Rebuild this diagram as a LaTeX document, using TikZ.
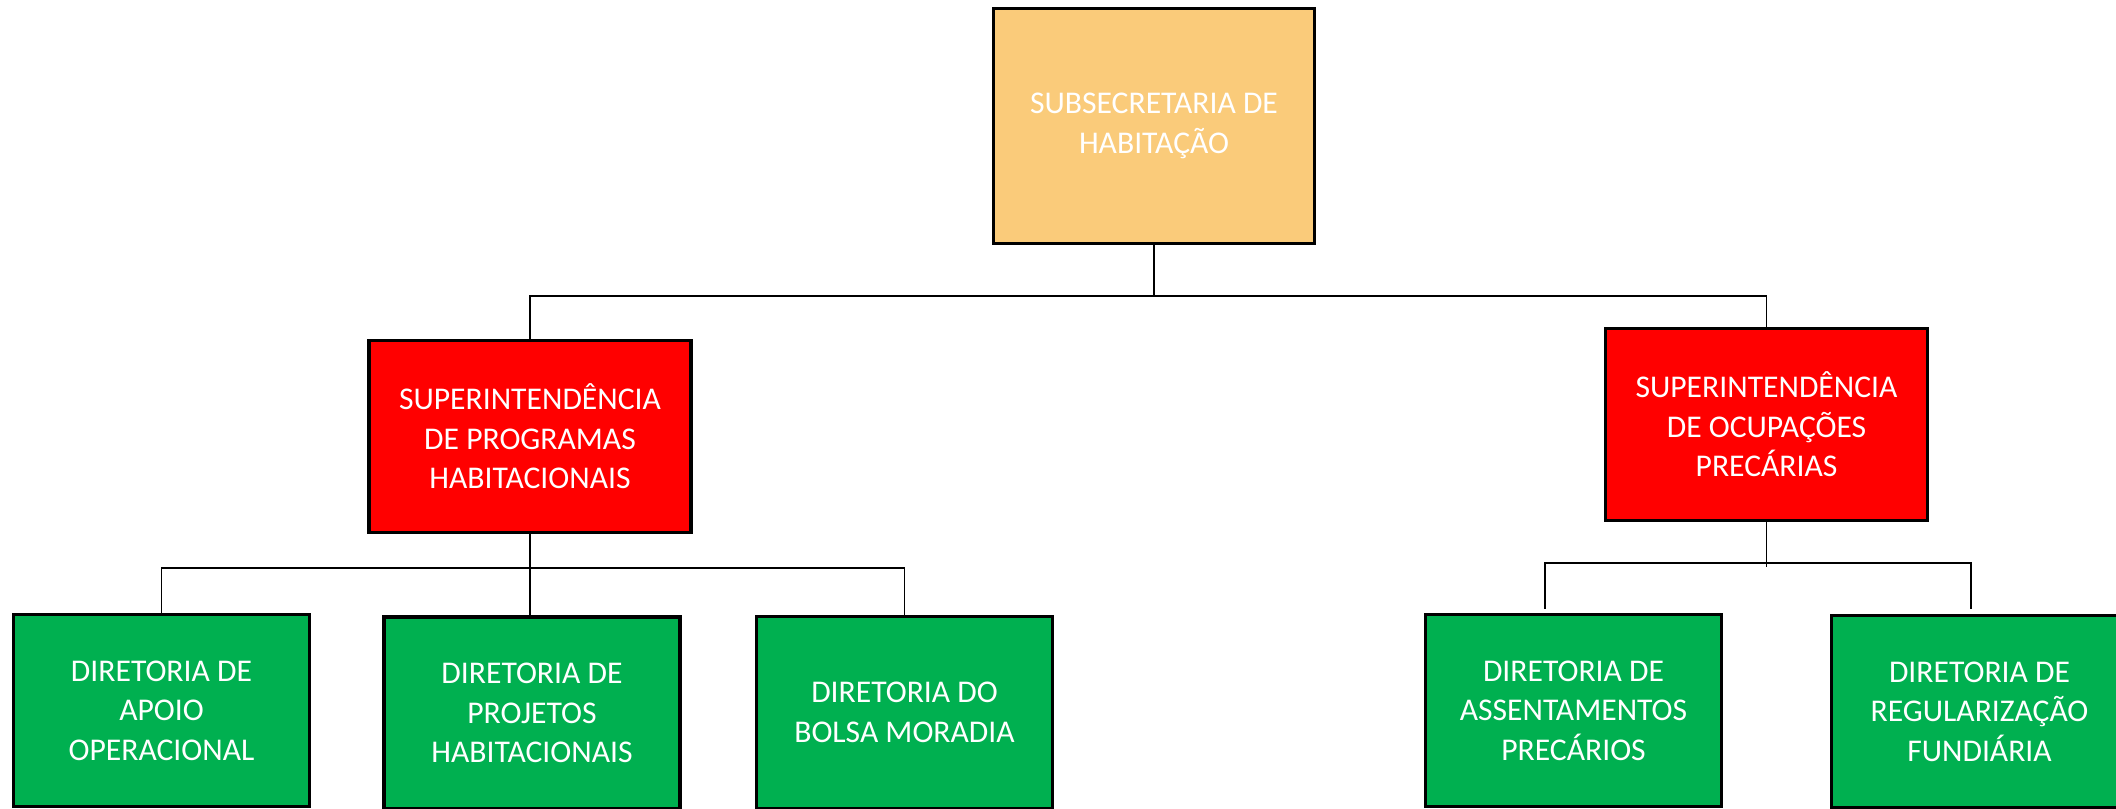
\documentclass[tikz,border=0pt]{standalone}
\usepackage{fontspec}
\setmainfont{Carlito}
\usetikzlibrary{positioning, calc}
\definecolor{subsec}{HTML}{FACB7A}
\definecolor{superint}{HTML}{FF0000}
\definecolor{diret}{HTML}{00B050}
\begin{document}
\begin{tikzpicture}[align=center,font=\fontsize{9}{11.2}\selectfont]
\tikzstyle{unit}=[rectangle,draw=black,line width=1.1pt,text=white,inner sep=0pt]
\tikzstyle{top}=[unit,fill=subsec,minimum width=3.21cm,minimum height=2.35cm]
\tikzstyle{sup}=[unit,fill=superint,minimum width=3.22cm,minimum height=1.92cm]
\tikzstyle{dir}=[unit,fill=diret,minimum width=2.96cm,minimum height=1.92cm]
\tikzstyle{conn}=[line width=0.45pt]

\useasboundingbox (0,0) rectangle (21.16,-8.09);
\clip (0,0) rectangle (21.16,-8.09);

\node[top] (sub) at (11.54,-1.26) {SUBSECRETARIA DE\\HABITAÇÃO};
\node[sup] (spro) at (5.30,-4.365) {SUPERINTENDÊNCIA\\DE PROGRAMAS\\HABITACIONAIS};
\node[sup] (socu) at (17.665,-4.245) {SUPERINTENDÊNCIA\\DE OCUPAÇÕES\\PRECÁRIAS};

\node[dir] (dapo) at (1.615,-7.105) {DIRETORIA DE\\APOIO\\OPERACIONAL};
\node[dir] (dpro) at (5.32,-7.13) {DIRETORIA DE\\PROJETOS\\HABITACIONAIS};
\node[dir] (dbol) at (9.045,-7.125) {DIRETORIA DO\\BOLSA MORADIA};
\node[dir] (dass) at (15.735,-7.105) {DIRETORIA DE\\ASSENTAMENTOS\\PRECÁRIOS};
\node[dir] (dreg) at (19.795,-7.115) {DIRETORIA DE\\REGULARIZAÇÃO\\FUNDIÁRIA};

% junctions
\coordinate (jtop) at (11.50,-2.96);
\coordinate (jpro) at (5.30,-5.68);
\coordinate (jocu) at (17.58,-5.67);
\coordinate (jass) at (15.45,-6.09);
\coordinate (jreg) at (19.71,-6.09);

\draw[conn] (sub.south) -- (sub.south |- jtop);
\draw[conn] (spro.north) |- (jtop) -| (socu.north);

\draw[conn] (spro.south) -- (spro.south |- dpro.north);
\draw[conn] (dapo.north) |- (jpro) -| (dbol.north);

\draw[conn] (socu.south) -- (socu.south |- jocu);
\draw[conn] (jass) |- ($(jass)!0.5!(jreg)+(0,0.46)$) -| (jreg);
\end{tikzpicture}
\end{document}
